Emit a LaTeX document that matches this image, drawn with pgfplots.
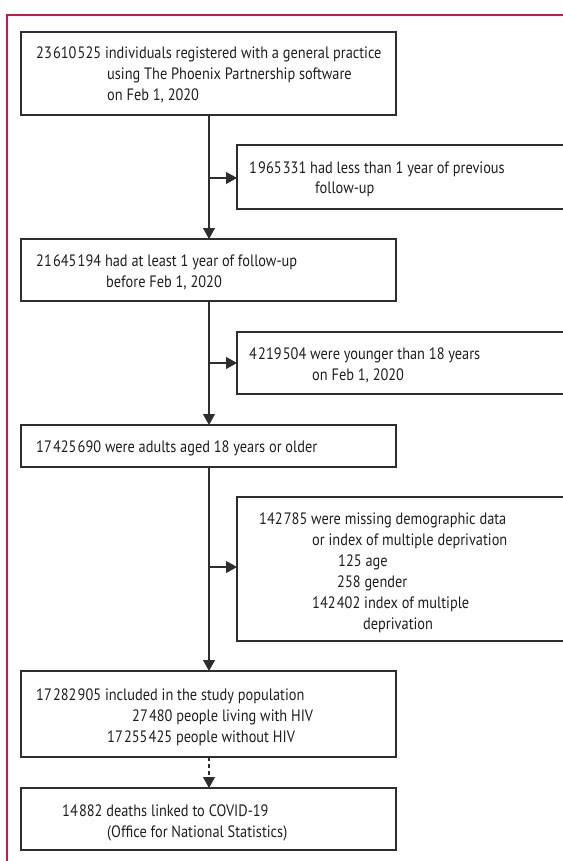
\documentclass[border=0pt]{standalone}
\usepackage{pgfplots}
\pgfplotsset{compat=1.18}
\usetikzlibrary{arrows.meta}
\usepackage{fontspec}
\setmainfont{PT Sans}[FakeStretch=0.87]
\definecolor{frame}{HTML}{C8194B}
\definecolor{ln}{HTML}{2E2E2E}
\definecolor{tx}{HTML}{1E1E1E}
\newcommand{\T}[3]{\node[anchor=base west,inner sep=0pt,text=tx] at (axis cs:#1,#2) {#3};}
\newcommand{\g}{\kern1.2pt}
\begin{document}
\begin{tikzpicture}
\useasboundingbox (0,0) rectangle (563bp,861bp);
\begin{axis}[at={(0,0)},anchor=south west,scale only axis,width=563bp,height=861bp,
  xmin=0,xmax=563,ymin=0,ymax=861,y dir=reverse,hide axis,clip=false]
\addplot[draw=none] coordinates {(0,0)};
% red frame
\draw[frame,line width=1.2bp] (axis cs:7,861) -- (axis cs:7,15) -- (axis cs:563,15);
\begin{scope}[ln,line width=1.1bp]
% main boxes
\draw (axis cs:21,32) rectangle (axis cs:396,115);
\draw (axis cs:21,239) rectangle (axis cs:396,301);
\draw (axis cs:21,425) rectangle (axis cs:396,467);
\draw (axis cs:21,671) rectangle (axis cs:396,757);
\draw (axis cs:21,788) rectangle (axis cs:396,850);
% side boxes (clipped on right)
\draw (axis cs:563,145) -- (axis cs:237,145) -- (axis cs:237,209) -- (axis cs:563,209);
\draw (axis cs:563,332) -- (axis cs:237,332) -- (axis cs:237,394) -- (axis cs:563,394);
\draw (axis cs:563,497) -- (axis cs:237,497) -- (axis cs:237,641) -- (axis cs:563,641);
% arrows
\draw[-{Triangle[length=11bp,width=12bp]}] (axis cs:209,115) -- (axis cs:209,239);
\draw[-{Triangle[length=11bp,width=12bp]}] (axis cs:209,178) -- (axis cs:237,178);
\draw[-{Triangle[length=11bp,width=12bp]}] (axis cs:209,301) -- (axis cs:209,425);
\draw[-{Triangle[length=11bp,width=12bp]}] (axis cs:209,363) -- (axis cs:237,363);
\draw[-{Triangle[length=11bp,width=12bp]}] (axis cs:209,467) -- (axis cs:209,671);
\draw[-{Triangle[length=11bp,width=12bp]}] (axis cs:209,567) -- (axis cs:237,567);
\draw[dash pattern=on 4bp off 3bp] (axis cs:209,757) -- (axis cs:209,777);
\draw[-{Triangle[length=11bp,width=12bp]}] (axis cs:209,777) -- (axis cs:209,788);
\end{scope}
\fontsize{16.5bp}{19bp}\selectfont
\T{36}{59}{23\g610\g525 individuals registered with a general practice}
\T{107}{80}{using The Phoenix Partnership software}
\T{107}{101}{on Feb 1, 2020}
\T{249}{173}{1\g965\g331 had less than 1 year of previous}
\T{315}{194}{follow-up}
\T{36}{266}{21\g645\g194 had at least 1 year of follow-up}
\T{106}{287}{before Feb 1, 2020}
\T{249}{359}{4\g219\g504 were younger than 18 years}
\T{312}{380}{on Feb 1, 2020}
\T{36}{452}{17\g425\g690 were adults aged 18 years or older}
\T{259}{524}{142\g785 were missing demographic data}
\T{312}{545}{or index of multiple deprivation}
\T{338}{566}{125 age}
\T{337}{587}{258 gender}
\T{312}{608}{142\g402 index of multiple}
\T{363}{629}{deprivation}
\T{36}{700}{17\g282\g905 included in the study population}
\T{132}{721}{27\g480 people living with HIV}
\T{107}{742}{17\g255\g425 people without HIV}
\T{62}{816}{14\g882 deaths linked to COVID-19}
\T{107}{837}{(Office for National Statistics)}
\end{axis}
\end{tikzpicture}
\end{document}
